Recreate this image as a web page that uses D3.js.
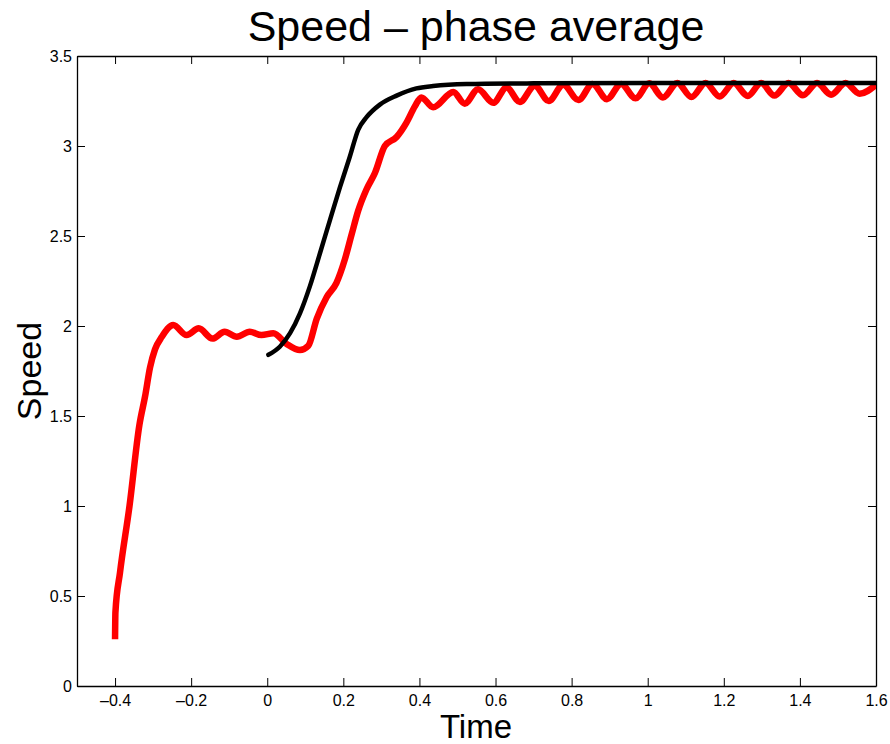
<!DOCTYPE html>
<html>
<head>
<meta charset="utf-8">
<script src="https://cdn.jsdelivr.net/npm/d3@7"></script>
<style>
  html, body { margin: 0; padding: 0; background: #fff; }
  svg { display: block; font-family: "Liberation Sans", Arial, Helvetica, sans-serif; }
</style>
</head>
<body>
<svg id="chart" width="890" height="744"></svg>
<script>
// Measured speed, phase averaged (red)
const measuredTime = [-0.400, -0.399, -0.387, -0.362, -0.336, -0.321, -0.308, -0.295, -0.277, -0.247,
  -0.212, -0.180, -0.144, -0.112, -0.080, -0.046, -0.015, 0.016, 0.051, 0.086,
  0.108, 0.130, 0.156, 0.182, 0.204, 0.222, 0.239, 0.261, 0.283, 0.309,
  0.340, 0.366, 0.388, 0.405, 0.436, 0.489, 0.519, 0.554, 0.594, 0.629,
  0.664, 0.703, 0.740, 0.778, 0.818, 0.855, 0.893, 0.930, 0.968, 1.004,
  1.040, 1.078, 1.115, 1.152, 1.189, 1.226, 1.263, 1.298, 1.333, 1.370,
  1.408, 1.445, 1.482, 1.520, 1.557, 1.600];
const measuredSpeed = [0.26, 0.41, 0.63, 1.00, 1.45, 1.61, 1.77, 1.87, 1.94, 2.005,
  1.95, 1.987, 1.93, 1.968, 1.94, 1.968, 1.95, 1.96, 1.90, 1.866,
  1.89, 2.04, 2.16, 2.24, 2.37, 2.51, 2.64, 2.76, 2.85, 3.00,
  3.05, 3.13, 3.22, 3.27, 3.215, 3.30, 3.235, 3.315, 3.24, 3.325,
  3.245, 3.335, 3.25, 3.34, 3.255, 3.345, 3.26, 3.345, 3.265, 3.348,
  3.27, 3.35, 3.272, 3.35, 3.275, 3.35, 3.278, 3.35, 3.28, 3.35,
  3.282, 3.35, 3.285, 3.35, 3.29, 3.34];

// Reference speed profile (black)
const referenceTime = [0.003, 0.033, 0.060, 0.086, 0.112, 0.138, 0.165, 0.191, 0.217, 0.239,
  0.261, 0.296, 0.340, 0.392, 0.436, 0.524, 0.700, 1.000, 1.300, 1.600];
const referenceSpeed = [1.84, 1.885, 1.96, 2.07, 2.22, 2.40, 2.59, 2.77, 2.94, 3.09,
  3.16, 3.23, 3.28, 3.32, 3.333, 3.344, 3.348, 3.35, 3.35, 3.35];

const xTicks = [-0.4, -0.2, 0, 0.2, 0.4, 0.6, 0.8, 1, 1.2, 1.4, 1.6];
const yTicks = [0, 0.5, 1, 1.5, 2, 2.5, 3, 3.5];

const titleText = "Speed \u2013 phase average";
const xLabelText = "Time";
const yLabelText = "Speed";

const svg = d3.select("#chart");
const plot = { left: 77, right: 876, top: 56, bottom: 686 };

const x = d3.scaleLinear().domain([-0.5, 1.6]).range([plot.left, plot.right]);
const y = d3.scaleLinear().domain([0, 3.5]).range([plot.bottom, plot.top]);

const fmt = d => String(d).replace("-", "\u2013");
const tickLen = 8;

// Axes: ticks point inward on all four sides
const gBottom = svg.append("g").attr("transform", `translate(0,${plot.bottom})`)
  .call(d3.axisBottom(x).tickValues(xTicks).tickFormat(fmt).tickSizeInner(-tickLen).tickSizeOuter(0).tickPadding(9));
const gTop = svg.append("g").attr("transform", `translate(0,${plot.top})`)
  .call(d3.axisTop(x).tickValues(xTicks).tickFormat("").tickSizeInner(-tickLen).tickSizeOuter(0));
const gLeft = svg.append("g").attr("transform", `translate(${plot.left},0)`)
  .call(d3.axisLeft(y).tickValues(yTicks).tickFormat(fmt).tickSizeInner(-tickLen).tickSizeOuter(0).tickPadding(5));
const gRight = svg.append("g").attr("transform", `translate(${plot.right},0)`)
  .call(d3.axisRight(y).tickValues(yTicks).tickFormat("").tickSizeInner(-tickLen).tickSizeOuter(0));

[gBottom, gTop, gLeft, gRight].forEach(g => {
  g.select(".domain").attr("stroke", "#000").attr("stroke-width", 1.3);
  g.selectAll(".tick line").attr("stroke", "#000").attr("stroke-width", 1);
  g.selectAll(".tick text").attr("fill", "#000").style("font-size", "16px")
    .style("font-family", "'Liberation Sans', Arial, sans-serif");
});

svg.append("clipPath").attr("id", "plotClip")
  .append("rect").attr("x", plot.left).attr("y", plot.top - 10)
  .attr("width", plot.right - plot.left).attr("height", plot.bottom - plot.top + 10);

const line = d3.line().x(d => x(d[0])).y(d => y(d[1])).curve(d3.curveMonotoneX);

const measured = measuredTime.map((t, i) => [t, measuredSpeed[i]]);
const reference = referenceTime.map((t, i) => [t, referenceSpeed[i]]);

svg.append("path").datum(measured)
  .attr("clip-path", "url(#plotClip)")
  .attr("d", line)
  .attr("fill", "none").attr("stroke", "#ff0000").attr("stroke-width", 6.5)
  .attr("stroke-linejoin", "round").attr("stroke-linecap", "butt");

svg.append("path").datum(reference)
  .attr("clip-path", "url(#plotClip)")
  .attr("d", line)
  .attr("fill", "none").attr("stroke", "#000").attr("stroke-width", 4.5)
  .attr("stroke-linejoin", "round").attr("stroke-linecap", "round");

// Titles
svg.append("text").attr("x", 476).attr("y", 41)
  .attr("text-anchor", "middle").style("font-size", "43px").text(titleText);
svg.append("text").attr("x", 476).attr("y", 738)
  .attr("text-anchor", "middle").style("font-size", "33px").text(xLabelText);
svg.append("text").attr("transform", `translate(41,371) rotate(-90)`)
  .attr("text-anchor", "middle").style("font-size", "34px").text(yLabelText);
</script>
</body>
</html>
